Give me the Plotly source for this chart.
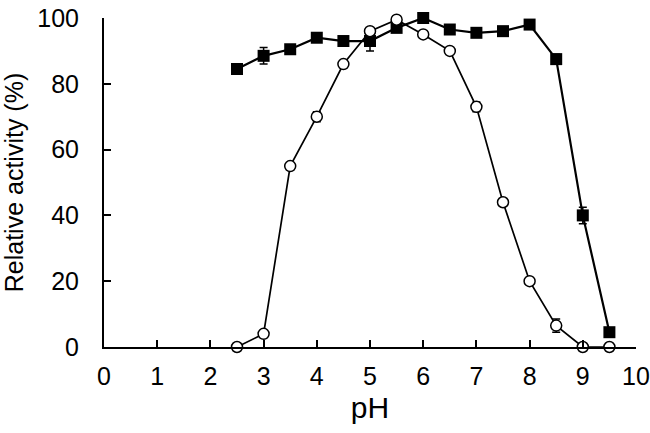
import plotly.graph_objects as go

# pH activity profile
ph = [2.5, 3, 3.5, 4, 4.5, 5, 5.5, 6, 6.5, 7, 7.5, 8, 8.5, 9, 9.5]

squares = [84.5, 88.5, 90.5, 94, 93, 93, 97, 100, 96.5, 95.5, 96, 98, 87.5, 40, 4.5]
squares_err = [0, 2.5, 0, 0, 0, 3, 0, 0, 0, 0, 0, 1, 1.5, 2.5, 0]

circles = [0, 4, 55, 70, 86, 96, 99.5, 95, 90, 73, 44, 20, 6.5, 0, 0]
circles_err = [0, 0, 1, 1.5, 0, 0, 0, 0, 0, 1.5, 0, 0, 2, 0, 0]

FONT = "Liberation Sans, Arial, sans-serif"

fig = go.Figure()

fig.add_trace(go.Scatter(
    x=ph, y=squares, mode="lines+markers",
    line=dict(color="black", width=2.2),
    marker=dict(symbol="square", size=12, color="black"),
    error_y=dict(type="data", array=squares_err, color="black", thickness=1.5, width=4),
    cliponaxis=False, showlegend=False,
))

fig.add_trace(go.Scatter(
    x=ph, y=circles, mode="lines+markers",
    line=dict(color="black", width=1.7),
    marker=dict(symbol="circle", size=11, color="white", line=dict(color="black", width=1.5)),
    error_y=dict(type="data", array=circles_err, color="black", thickness=1.5, width=4),
    cliponaxis=False, showlegend=False,
))

fig.update_layout(
    width=650, height=433,
    margin=dict(l=104, r=14, t=18, b=86),
    paper_bgcolor="white", plot_bgcolor="white",
    font=dict(family=FONT, size=25, color="black"),
)

fig.update_xaxes(
    range=[0, 10], tickvals=list(range(11)),
    showgrid=False, zeroline=False, automargin=False,
    showline=True, linecolor="black", linewidth=2,
    ticks="inside", ticklen=7, tickwidth=2, tickcolor="black",
    ticklabeloverflow="allow", ticklabelstandoff=6,
    title=dict(text="pH", standoff=8),
)
fig.update_yaxes(
    range=[0, 100], tickvals=[0, 20, 40, 60, 80, 100],
    showgrid=False, zeroline=False, automargin=False,
    showline=True, linecolor="black", linewidth=2,
    ticks="inside", ticklen=7, tickwidth=2, tickcolor="black",
    ticklabeloverflow="allow", ticklabelstandoff=18,
    title=dict(text="Relative activity (%)", font=dict(size=25), standoff=25),
)

# drop the default 8px body margin so the figure sits at the page corner
fig.write_html("out.html", config={"displayModeBar": False},
               post_script="document.body.style.margin='0';")
